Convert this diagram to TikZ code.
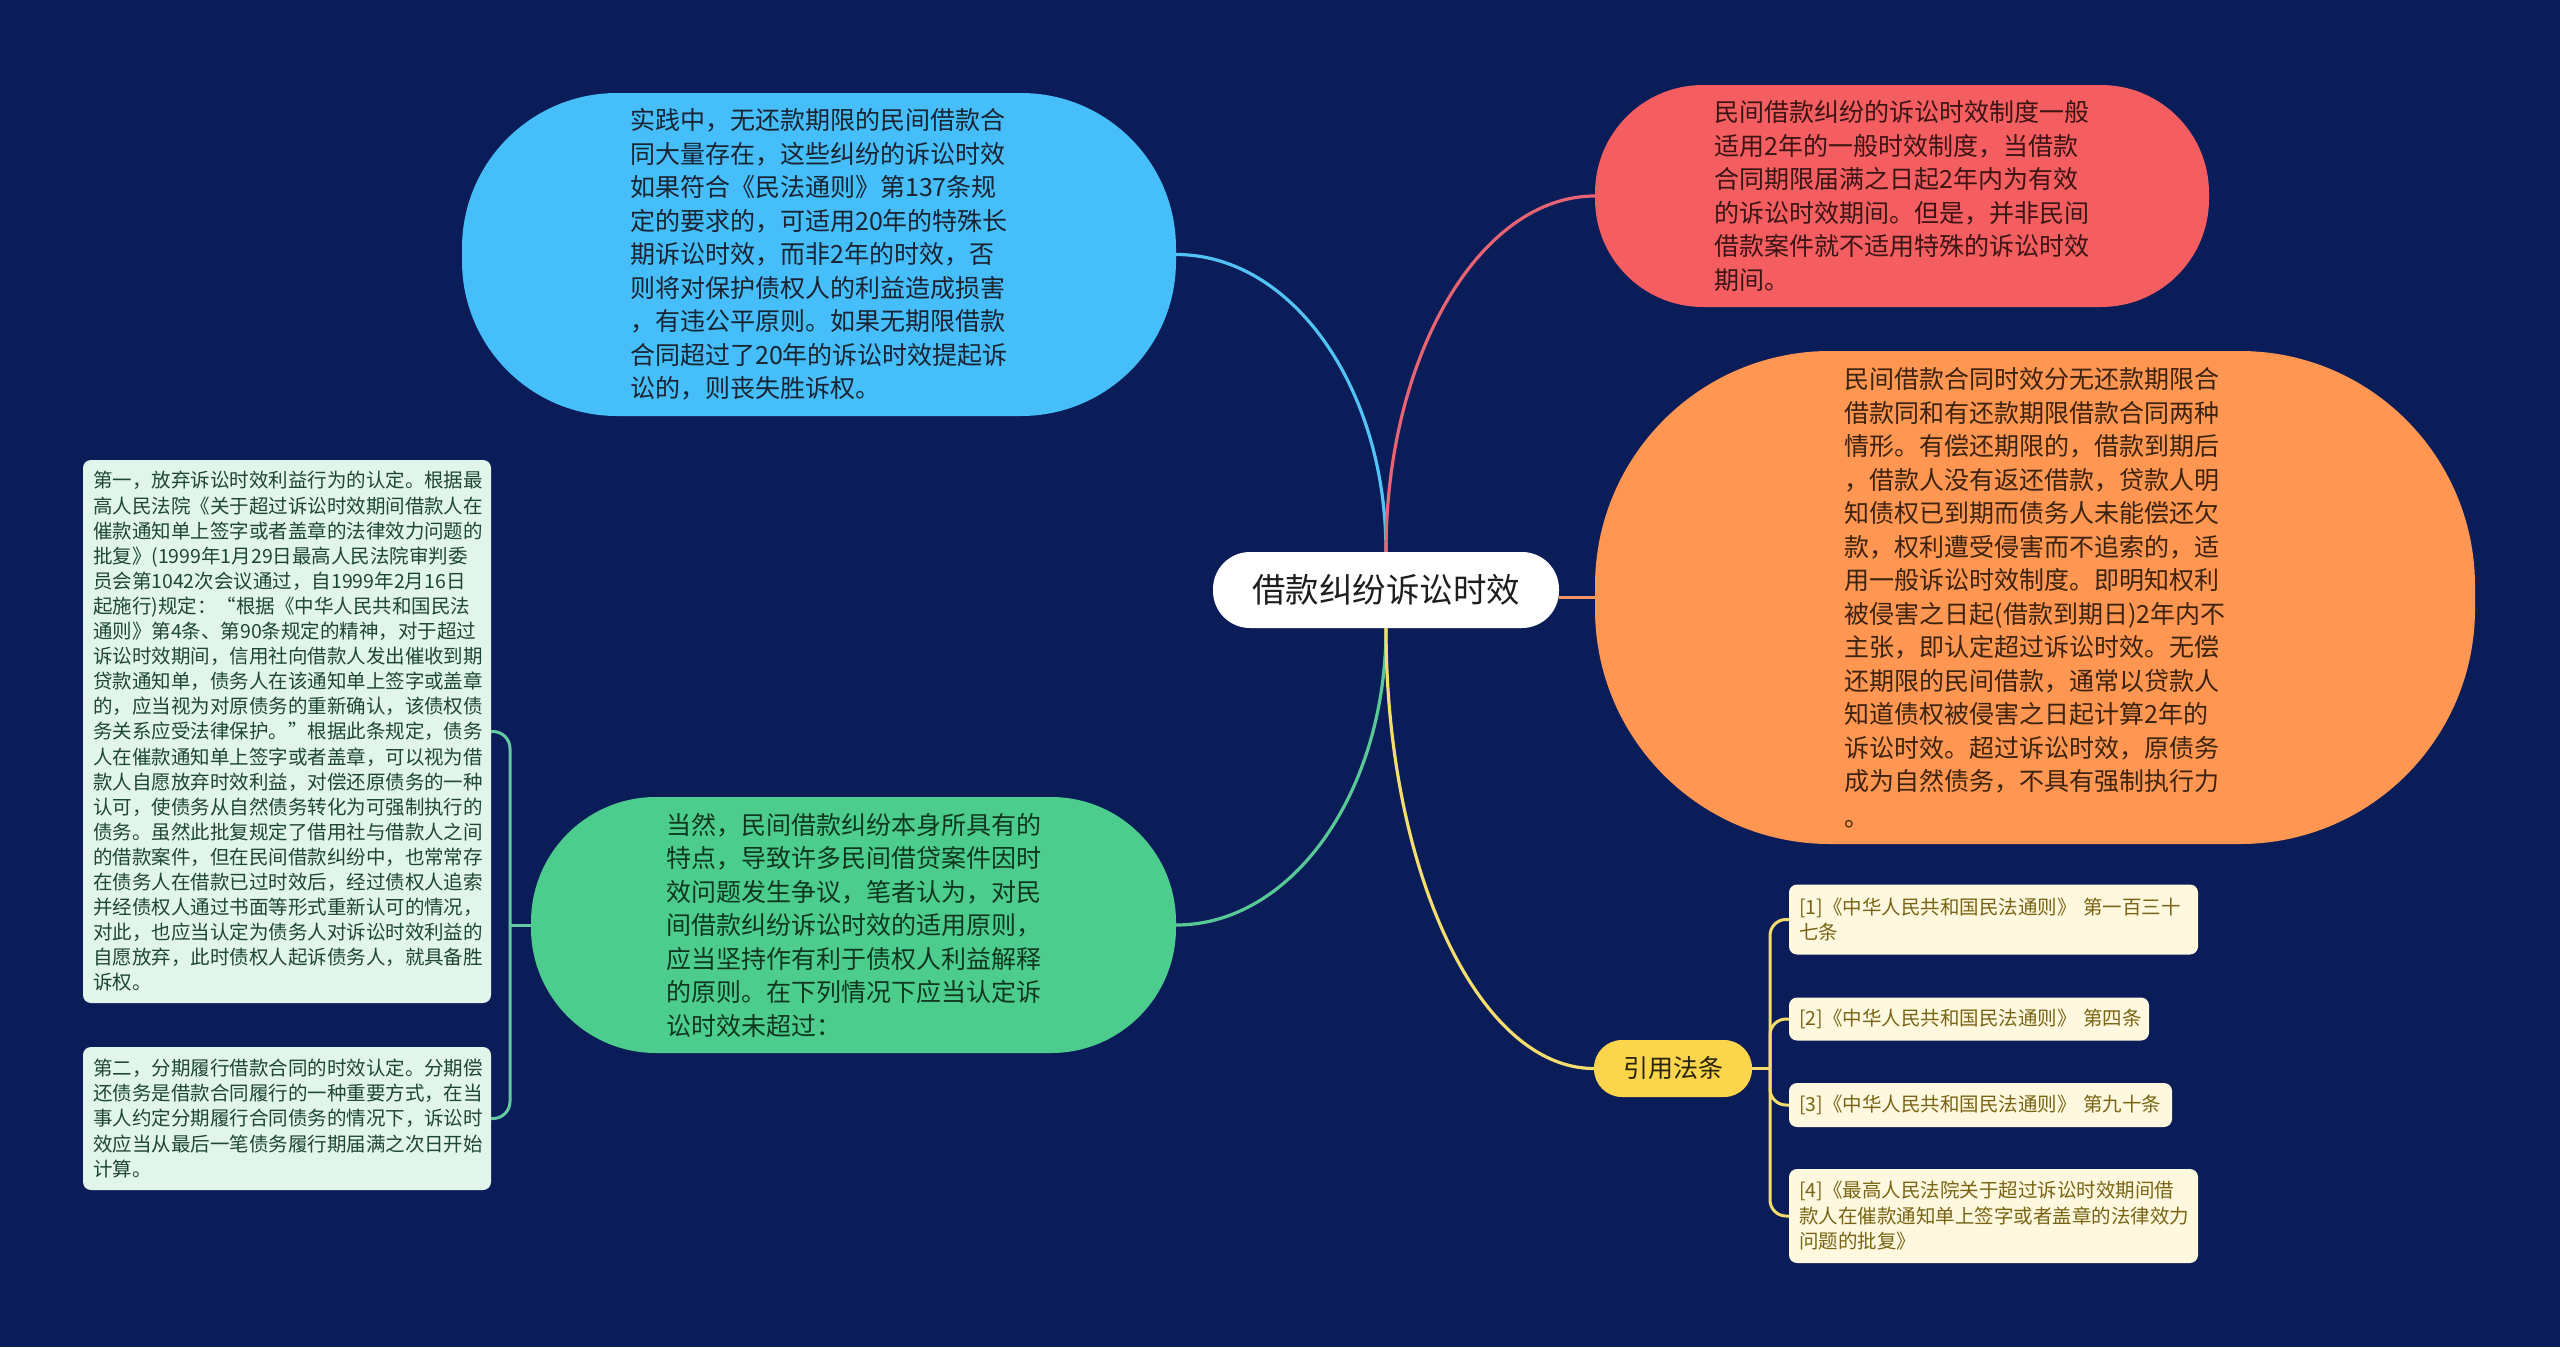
\documentclass[tikz,border=0pt]{standalone}
\usepackage{fontspec}
\setmainfont{Noto Sans CJK SC}
\definecolor{bgc}{RGB}{11,29,89}
\definecolor{bluef}{RGB}{69,190,250}
\definecolor{bluel}{RGB}{82,195,245}
\definecolor{bluet}{RGB}{25,35,50}
\definecolor{redf}{RGB}{245,94,97}
\definecolor{redl}{RGB}{232,100,115}
\definecolor{redt}{RGB}{60,20,20}
\definecolor{orf}{RGB}{255,150,82}
\definecolor{orl}{RGB}{245,150,100}
\definecolor{ort}{RGB}{60,35,15}
\definecolor{grf}{RGB}{76,205,142}
\definecolor{grl}{RGB}{88,200,150}
\definecolor{grt}{RGB}{15,55,30}
\definecolor{yef}{RGB}{251,213,76}
\definecolor{yel}{RGB}{245,220,110}
\definecolor{yet}{RGB}{40,35,10}
\definecolor{lbf}{RGB}{226,245,235}
\definecolor{lbt}{RGB}{30,70,55}
\definecolor{lbl}{RGB}{100,200,160}
\definecolor{rbf}{RGB}{254,248,222}
\definecolor{rbt}{RGB}{120,100,20}
\begin{document}
\begin{tikzpicture}[x=1pt,y=-1pt,
  big/.style={draw=none, inner sep=0pt, align=left, font=\fontsize{25}{33.5}\selectfont},
  leftbox/.style={fill=lbf, text=lbt, rounded corners=8pt, inner xsep=10pt, inner ysep=0pt,
    align=left, text width=388pt, font=\fontsize{19.5}{25.1}\selectfont},
  refbox/.style={fill=rbf, text=rbt, rounded corners=8pt, inner xsep=10pt, inner ysep=0pt,
    align=left, font=\fontsize{19.5}{25.5}\selectfont},
  mainline/.style={line width=3.2pt},
  subline/.style={line width=3pt}]
\fill[bgc] (0,0) rectangle (2560,1347);
\useasboundingbox (0,0) rectangle (2560,1347);

% center
\node[fill=white, text={rgb,255:red,30;green,30;blue,30}, rounded corners=37pt, minimum width=346pt, minimum height=76pt, inner sep=0pt, font=\fontsize{33.5}{40}\selectfont] (cn) at (1386,590) {借款纠纷诉讼时效};

% blue
\node[big, fill=bluef, text=bluet, minimum width=714pt, minimum height=323pt, rounded corners=155pt] (bl) at (819,254.5) {实践中，无还款期限的民间借款合\\同大量存在，这些纠纷的诉讼时效\\如果符合《民法通则》第137条规\\定的要求的，可适用20年的特殊长\\期诉讼时效，而非2年的时效，否\\则将对保护债权人的利益造成损害\\，有违公平原则。如果无期限借款\\合同超过了20年的诉讼时效提起诉\\讼的，则丧失胜诉权。};

% red
\node[big, fill=redf, text=redt, minimum width=614pt, minimum height=222pt, rounded corners=108pt] (rd) at (1902,196) {民间借款纠纷的诉讼时效制度一般\\适用2年的一般时效制度，当借款\\合同期限届满之日起2年内为有效\\的诉讼时效期间。但是，并非民间\\借款案件就不适用特殊的诉讼时效\\期间。};

% orange
\node[big, fill=orf, text=ort, minimum width=880pt, minimum height=493pt, rounded corners=235pt] (on) at (2035,597.5) {民间借款合同时效分无还款期限合\\借款同和有还款期限借款合同两种\\情形。有偿还期限的，借款到期后\\，借款人没有返还借款，贷款人明\\知债权已到期而债务人未能偿还欠\\款，权利遭受侵害而不追索的，适\\用一般诉讼时效制度。即明知权利\\被侵害之日起(借款到期日)2年内不\\主张，即认定超过诉讼时效。无偿\\还期限的民间借款，通常以贷款人\\知道债权被侵害之日起计算2年的\\诉讼时效。超过诉讼时效，原债务\\成为自然债务，不具有强制执行力\\[2pt]。};

% green
\node[big, fill=grf, text=grt, minimum width=645pt, minimum height=256pt, rounded corners=125pt] (gn) at (853.5,925) {当然，民间借款纠纷本身所具有的\\特点，导致许多民间借贷案件因时\\效问题发生争议，笔者认为，对民\\间借款纠纷诉讼时效的适用原则，\\应当坚持作有利于债权人利益解释\\的原则。在下列情况下应当认定诉\\讼时效未超过：};

% yellow
\node[fill=yef, text=yet, rounded corners=28pt, minimum width=158pt, minimum height=57pt, inner sep=0pt, font=\fontsize{25}{30}\selectfont] (yn) at (1673,1068.5) {引用法条};

% left boxes
\node[leftbox, minimum height=543pt] (lb1) at (287,731.5) {第一，放弃诉讼时效利益行为的认定。根据最\\高人民法院《关于超过诉讼时效期间借款人在\\催款通知单上签字或者盖章的法律效力问题的\\批复》(1999年1月29日最高人民法院审判委\\员会第1042次会议通过，自1999年2月16日\\起施行)规定：“根据《中华人民共和国民法\\通则》第4条、第90条规定的精神，对于超过\\诉讼时效期间，信用社向借款人发出催收到期\\贷款通知单，债务人在该通知单上签字或盖章\\的，应当视为对原债务的重新确认，该债权债\\务关系应受法律保护。”根据此条规定，债务\\人在催款通知单上签字或者盖章，可以视为借\\款人自愿放弃时效利益，对偿还原债务的一种\\认可，使债务从自然债务转化为可强制执行的\\债务。虽然此批复规定了借用社与借款人之间\\的借款案件，但在民间借款纠纷中，也常常存\\在债务人在借款已过时效后，经过债权人追索\\并经债权人通过书面等形式重新认可的情况，\\对此，也应当认定为债务人对诉讼时效利益的\\自愿放弃，此时债权人起诉债务人，就具备胜\\诉权。};
\node[leftbox, minimum height=143pt] (lb2) at (287,1118.5) {第二，分期履行借款合同的时效认定。分期偿\\还债务是借款合同履行的一种重要方式，在当\\事人约定分期履行合同债务的情况下，诉讼时\\效应当从最后一笔债务履行期届满之次日开始\\计算。};

% ref boxes
\node[refbox, text width=389pt, minimum height=70pt] (r1) at (1993.5,919.5) {[1]《中华人民共和国民法通则》~第一百三十\\七条};
\node[refbox, text width=340pt, minimum height=43pt] (r2) at (1969,1019) {[2]《中华人民共和国民法通则》~第四条};
\node[refbox, text width=363pt, minimum height=44pt] (r3) at (1980.5,1105) {[3]《中华人民共和国民法通则》~第九十条};
\node[refbox, text width=389pt, minimum height=94pt] (r4) at (1993.5,1216) {[4]《最高人民法院关于超过诉讼时效期间借\\款人在催款通知单上签字或者盖章的法律效力\\问题的批复》};

% main connectors
\draw[mainline, bluel] (cn.north) .. controls +(0,-164) and +(116,0) .. (bl.east);
\draw[mainline, redl] (cn.north) .. controls +(0,-196) and +(-115,0) .. (rd.west);
\draw[mainline, orl] (cn.east |- on.west) -- (on.west);
\draw[mainline, grl] (cn.south) .. controls +(0,164) and +(116,0) .. (gn.east);
\draw[mainline, yel] (cn.south) .. controls +(0,243) and +(-115,0) .. (yn.west);

% left branch
\coordinate (gj) at (510,925);
\draw[subline, lbl] (gn.west) -- (gj);
\draw[subline, lbl, rounded corners=17pt] (gj) |- (lb1.east);
\draw[subline, lbl, rounded corners=17pt] (gj) |- (lb2.east);

% ref branch
\coordinate (yj) at (1770,1068.5);
\draw[subline, yel] (yn.east) -- (yj);
\draw[subline, yel, rounded corners=16pt] (yj) |- (r1.west);
\draw[subline, yel, rounded corners=16pt] (yj) |- (r2.west);
\draw[subline, yel, rounded corners=16pt] (yj) |- (r3.west);
\draw[subline, yel, rounded corners=16pt] (yj) |- (r4.west);
\end{tikzpicture}
\end{document}
